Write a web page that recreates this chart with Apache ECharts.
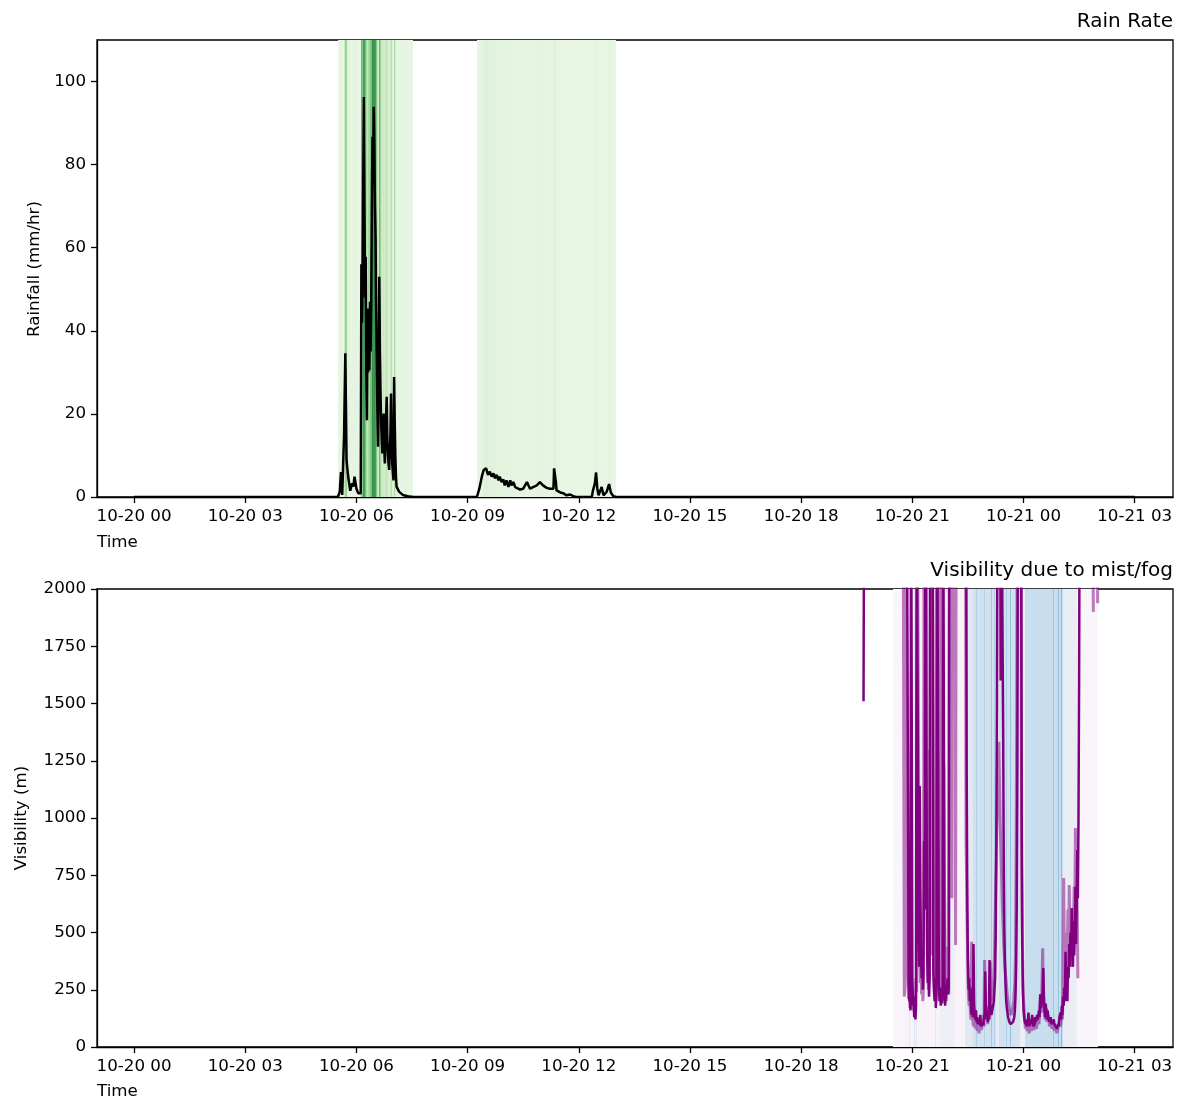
<!DOCTYPE html>
<html><head><meta charset="utf-8">
<script src="https://cdn.jsdelivr.net/npm/echarts@6/dist/echarts.min.js"></script>
<style>html,body{margin:0;padding:0;background:#fff}#chart{width:1181px;height:1099px}</style>
</head><body><div id="chart"></div>
<script>
// ---- DATA (time = minutes after 10-20 00:00) ----
const tickMinutes = [0,180,360,540,720,900,1080,1260,1440,1620];
const tickLabels = ['10-20 00','10-20 03','10-20 06','10-20 09','10-20 12','10-20 15','10-20 18','10-20 21','10-21 00','10-21 03'];
const rainTicks = [0,20,40,60,80,100];
const visTicks = [0,250,500,750,1000,1250,1500,1750,2000];

// rain rate (mm/hr)
const rain = [[0,0],[330,0],[333,1.3],[335,6],[337,0.5],[340,15],[342,34.6],[344,9],[345,7.3],[347,4.5],[350,1.5],[353,3.3],[355,2.5],[357,4.9],[360,2],[363,0.9],[367,0.9],
[368,56],[369,42],[370,53],[371,75],[372,96.3],[373,70],[374,48],[375,57.8],[376,30],[377,18.5],[378,45.4],[379,30],[380,42],[381,30.5],[382,47],[383,35],[384,48],[385,70],[386,86.7],[387,75],[388,93.9],[389,85],[390,70],[391,62.6],[392,45],[393,32.2],[394,20],[395,12.1],[396,30],[397,53],[398,35],[399,25],[400,17.7],[401,14],[402,10.5],[403,16],[404,20.1],[405,12],[406,8.1],[407,15],[408,19],[409,24.1],[410,14],[411,10],[412,8],[413,6.5],[414,11],[415,15],[416,24.9],[417,14],[418,8],[419,6],[420,4],[421,28.9],[422,18],[423,10],[424,5],[425,2.5],[429,1.3],[435,0.5],[443,0.2],[452,0],
[555,0],[559,2],[563,4.9],[566,6.5],[570,6.9],[573,5.3],[576,6.1],[579,4.9],[582,5.7],[584,4.5],[587,5.3],[590,4.0],[592,4.9],[595,3.6],[598,4.2],[600,2.8],[603,4.0],[606,2.4],[609,4.0],[611,2.8],[614,3.6],[617,2.4],[619,2.0],[625,1.8],[630,2.0],[636,3.6],[641,2.0],[646,2.4],[652,2.8],[657,3.6],[662,2.8],[668,2.2],[673,2.0],[679,2.0],[680,6.9],[683,3.6],[684,1.6],[690,1.1],[695,0.9],[700,0.4],[706,0.6],[711,0.2],[716,0],[741,0],[743,1.6],[746,3.2],[748,5.9],[750,2.0],[752,0.4],[754,1.2],[757,2.4],[760,0.4],[762,0.8],[765,1.2],[769,3.1],[772,1.0],[776,0.2],[781,0],[1620,0]];
const rainEventWindows = [[330,452],[555,782]];

// visibility (m); values above 2000 are off the top of the axis, null = no data
const visDark = [[1181,1510],[1182,2600],[1183,null],
[1251,2600],[1253,2600],[1254,280],[1255,200],[1256,240],[1257,160],[1258,2600],[1259,2600],[1260,300],[1261,180],[1262,220],[1263,130],[1264,170],[1265,120],[1266,180],[1267,2600],[1269,2600],[1270,500],[1271,350],[1272,1140],[1273,700],[1274,420],[1275,300],[1276,380],[1277,250],[1278,330],[1279,900],[1280,600],[1281,2600],[1283,2600],[1284,400],[1285,280],[1286,350],[1287,220],[1288,300],[1289,2600],[1293,2600],[1294,330],[1295,260],[1296,200],[1297,300],[1298,170],[1299,230],[1300,2600],[1302,2600],[1303,280],[1304,200],[1305,240],[1306,180],[1307,260],[1308,190],[1309,240],[1310,2600],[1311,2600],[1312,250],[1313,180],[1314,220],[1316,260],[1317,300],[1318,230],[1319,260],[1320,2600],
[1347,2600],[1348,1200],[1349,600],[1350,380],[1351,250],[1352,300],[1353,200],[1354,260],[1355,170],[1356,140],[1357,190],[1358,130],[1359,450],[1360,200],[1361,140],[1362,120],[1363,160],[1364,110],[1365,130],[1366,100],[1368,120],[1369,95],[1370,140],[1371,100],[1372,90],[1373,110],[1375,95],[1376,140],[1377,120],[1378,330],[1379,180],[1380,130],[1381,160],[1382,110],[1384,130],[1385,380],[1386,200],[1387,150],[1388,140],[1390,170],[1392,200],[1394,300],[1395,500],[1396,900],[1397,1500],[1398,2600],[1402,2600],[1403,1600],[1404,2600],[1406,2600],[1407,1400],[1408,800],[1409,500],[1410,350],[1411,260],[1412,200],[1413,170],[1414,150],[1415,130],[1416,120],[1417,110],[1419,100],[1421,100],[1423,110],[1425,130],[1426,160],[1427,220],[1428,350],[1429,600],[1430,1200],[1431,2600],[1436,2600],[1437,1000],[1438,450],[1439,250],[1440,170],[1441,130],[1442,110],[1443,100],[1444,120],[1445,90],[1447,110],[1448,150],[1449,100],[1450,90],[1452,120],[1453,100],[1454,140],[1455,110],[1456,90],[1458,100],[1459,130],[1460,110],[1462,140],[1463,120],[1465,160],[1466,130],[1467,230],[1468,170],[1469,180],[1471,240],[1472,345],[1473,220],[1474,160],[1475,130],[1476,190],[1477,140],[1478,120],[1479,160],[1480,130],[1482,110],[1484,130],[1485,100],[1487,95],[1489,120],[1490,100],[1492,90],[1494,80],[1496,100],[1497,90],[1498,130],[1500,150],[1501,120],[1502,180],[1503,140],[1504,220],[1505,180],[1506,260],[1507,200],[1508,416],[1509,250],[1510,300],[1511,200],[1512,350],[1513,300],[1514,450],[1515,350],[1516,500],[1517,400],[1518,607],[1519,450],[1520,350],[1521,550],[1522,400],[1523,500],[1524,700],[1525,450],[1526,600],[1527,860],[1528,650],[1529,1000],[1530,1600],[1531,2600]];

const visLight = [[1245,2600],[1246,2600],[1247,220],[1248,260],[1249,2600],[1250,2600],[1251,760],[1252,400],[1253,300],[1254,210],[1255,260],[1256,170],[1257,240],[1258,525],[1259,300],[1260,230],[1261,160],[1262,200],[1263,250],[1264,180],[1265,220],[1266,300],[1267,240],[1268,2600],[1270,2600],[1271,655],[1272,400],[1273,280],[1274,350],[1275,230],[1276,300],[1277,200],[1278,260],[1279,2600],[1283,2600],[1284,500],[1285,350],[1286,250],[1287,300],[1288,1297],[1289,900],[1290,600],[1291,400],[1292,2600],[1294,2600],[1295,280],[1296,220],[1297,260],[1298,200],[1299,290],[1300,2600],[1303,2600],[1304,300],[1305,250],[1306,2600],[1308,2600],[1309,230],[1310,300],[1311,1240],[1312,700],[1313,400],[1314,250],[1315,200],[1316,280],[1317,437],[1318,300],[1319,230],[1320,2600],[1323,2600],[1324,650],[1325,2600],[1329,2600],[1330,445],[1331,2600],
[1346,2600],[1347,900],[1348,700],[1349,500],[1350,300],[1351,220],[1352,180],[1353,250],[1354,150],[1355,120],[1356,460],[1357,200],[1358,110],[1359,90],[1360,130],[1362,80],[1364,110],[1365,70],[1367,90],[1368,60],[1370,100],[1372,75],[1374,120],[1376,90],[1377,380],[1378,250],[1379,120],[1381,180],[1382,100],[1384,150],[1385,120],[1386,372],[1387,250],[1389,200],[1391,250],[1393,400],[1395,700],[1397,1000],[1398,1300],[1399,1100],[1400,1333],[1402,1000],[1404,800],[1406,600],[1408,450],[1410,350],[1412,280],[1414,220],[1416,180],[1418,150],[1420,140],[1422,160],[1424,200],[1426,280],[1427,400],[1428,800],[1429,1500],[1430,2600],[1436,2600],[1437,800],[1438,500],[1439,300],[1440,200],[1441,150],[1442,120],[1443,80],[1444,100],[1446,70],[1448,90],[1449,60],[1451,85],[1453,70],[1454,130],[1455,95],[1457,75],[1459,100],[1461,80],[1463,120],[1465,100],[1467,200],[1469,150],[1471,431],[1472,250],[1473,180],[1475,120],[1477,170],[1478,110],[1480,140],[1482,90],[1484,110],[1486,80],[1488,100],[1490,70],[1492,95],[1494,60],[1496,85],[1498,110],[1500,90],[1502,150],[1503,120],[1504,250],[1505,738],[1506,400],[1507,300],[1508,500],[1509,350],[1510,300],[1512,600],[1513,400],[1514,707],[1515,500],[1517,350],[1518,600],[1519,450],[1520,400],[1522,700],[1523,550],[1524,956],[1525,700],[1526,900],[1527,600],[1528,300],[1529,null],
[1552,2600],[1553,1900],[1554,null],[1559,2600],[1560,1938]];

// fog intensity bands [start, end, level 0..1]
const fogBands = [[1228,1245,0.05],[1245,1254,0.1],[1254,1256,0.3],[1256,1262,0.12],[1262,1264,0.35],[1264,1266,0.15],[1266,1267,0.3],[1267,1283,0.1],[1283,1284,0.3],[1284,1297,0.1],[1297,1298,0.3],[1298,1305,0.12],[1305,1314,0.2],[1314,1315,0.35],[1315,1328,0.2],[1328,1345,0.1],[1345,1358,0.3],[1358,1363,0.5],[1363,1364,0.7],[1364,1366,0.5],[1366,1367,0.8],[1367,1369,0.5],[1369,1370,0.65],[1370,1372,0.5],[1372,1373,0.75],[1373,1376,0.5],[1376,1377,0.65],[1377,1382,0.5],[1382,1383,0.7],[1383,1388,0.5],[1388,1389,0.8],[1389,1393,0.5],[1393,1394,0.7],[1394,1395,0.45],[1395,1401,0.25],[1401,1406,0.5],[1406,1407,0.65],[1407,1412,0.5],[1412,1413,0.7],[1413,1418,0.5],[1418,1419,0.85],[1419,1426,0.5],[1426,1427,0.75],[1427,1434,0.45],[1434,1442,0.2],[1442,1445,0.55],[1445,1446,0.8],[1446,1450,0.55],[1450,1451,0.75],[1451,1455,0.55],[1455,1456,0.7],[1456,1460,0.55],[1460,1461,0.85],[1461,1466,0.55],[1466,1467,0.7],[1467,1471,0.55],[1471,1472,0.75],[1472,1479,0.55],[1479,1480,0.85],[1480,1484,0.55],[1484,1485,0.7],[1485,1488,0.55],[1488,1489,0.8],[1489,1492,0.55],[1492,1493,0.7],[1493,1496,0.55],[1496,1497,0.85],[1497,1501,0.55],[1501,1503,0.9],[1503,1504,0.55],[1504,1527,0.22],[1527,1561,0.06]];

// ---- helpers ----
const greenStops = [[0,[232,246,228]],[0.05,[226,243,221]],[0.2,[192,229,184]],[0.45,[130,200,130]],[0.7,[70,160,90]],[1,[35,130,60]]];
const blueStops = [[0,[251,247,251]],[0.1,[247,243,249]],[0.25,[232,235,244]],[0.5,[208,225,239]],[0.8,[158,200,225]],[1,[125,180,213]]];
function lerpStops(stops, t) {
  t = Math.max(0, Math.min(1, t));
  for (let i = 1; i < stops.length; i++) {
    if (t <= stops[i][0]) {
      const a = stops[i-1], b = stops[i];
      const f = (t - a[0]) / (b[0] - a[0]);
      return 'rgb(' + [0,1,2].map(k => Math.round(a[1][k] + (b[1][k]-a[1][k]) * f)).join(',') + ')';
    }
  }
  const l = stops[stops.length-1][1];
  return 'rgb(' + l.join(',') + ')';
}
const rainBands = [];
for (let i = 0; i < rain.length - 1; i++) {
  const a = rain[i][0], b = rain[i+1][0];
  if (rainEventWindows.some(w => a >= w[0] && b <= w[1])) rainBands.push([a, b, rain[i][1]]);
}
function bandRenderer(colorFn) {
  return function (params, api) {
    const cs = params.coordSys;
    const xa = Math.round(api.coord([api.value(0), 0])[0]);
    let xb = Math.round(api.coord([api.value(1), 0])[0]);
    if (xb <= xa) xb = xa + 1;
    return { type: 'rect', shape: { x: xa, y: cs.y, width: xb - xa, height: cs.height },
             style: { fill: colorFn(api.value(2)) }, silent: true };
  };
}
const FONT = 'DejaVu Sans';
function xAxisCfg(gi) {
  return { type: 'value', gridIndex: gi, min: -60, max: 1682,
    axisLine: { show: true, onZero: false, lineStyle: { color: '#000', width: 1.3 } },
    axisTick: { show: true, customValues: tickMinutes, length: 6, lineStyle: { color: '#000', width: 1.3 } },
    axisLabel: { customValues: tickMinutes, formatter: v => tickLabels[tickMinutes.indexOf(v)] || '',
      fontFamily: FONT, fontSize: 16.7, color: '#000', margin: 11 },
    splitLine: { show: false } };
}
function yAxisCfg(gi, max, ticks) {
  return { type: 'value', gridIndex: gi, min: 0, max: max,
    axisLine: { show: true, onZero: false, lineStyle: { color: '#000', width: 1.3 } },
    axisTick: { show: true, customValues: ticks, length: 6, lineStyle: { color: '#000', width: 1.3 } },
    axisLabel: { customValues: ticks, formatter: v => String(v), fontFamily: FONT, fontSize: 16.7, color: '#000', margin: 11 },
    splitLine: { show: false } };
}
const txt = (text, x, y, size, align, rot) => ({ type: 'text', x: x, y: y, rotation: rot || 0, z: 100,
  style: { text: text, fontFamily: FONT, fontSize: size, fill: '#000', align: align, verticalAlign: 'middle' } });

const chart = echarts.init(document.getElementById('chart'), null, { renderer: 'canvas' });
chart.setOption({
  animation: false,
  backgroundColor: '#fff',
  grid: [
    { left: 97, top: 40, width: 1076, height: 457, show: true, borderColor: '#000', borderWidth: 1.3, containLabel: false },
    { left: 97, top: 589, width: 1076, height: 458, show: true, borderColor: '#000', borderWidth: 1.3, containLabel: false }
  ],
  xAxis: [xAxisCfg(0), xAxisCfg(1)],
  yAxis: [yAxisCfg(0, 110, rainTicks), yAxisCfg(1, 2000, visTicks)],
  graphic: [
    txt('Rain Rate', 1173, 22, 20, 'right'),
    txt('Visibility due to mist/fog', 1173, 571, 20, 'right'),
    txt('Time', 97, 543, 16.7, 'left'),
    txt('Time', 97, 1092, 16.7, 'left'),
    txt('Rainfall (mm/hr)', 35, 269, 16.7, 'center', Math.PI / 2),
    txt('Visibility (m)', 22, 818, 16.7, 'center', Math.PI / 2)
  ],
  series: [
    { type: 'custom', xAxisIndex: 0, yAxisIndex: 0, data: rainBands, encode: { x: [0, 1], y: 2 }, z: 1,
      renderItem: bandRenderer(v => lerpStops(greenStops, v / 100)) },
    { type: 'line', xAxisIndex: 0, yAxisIndex: 0, data: rain, showSymbol: false, symbol: 'none', z: 5,
      lineStyle: { color: '#000', width: 2.5 } },
    { type: 'custom', xAxisIndex: 1, yAxisIndex: 1, data: fogBands, encode: { x: [0, 1], y: 2 }, z: 1,
      renderItem: bandRenderer(v => lerpStops(blueStops, v)) },
    { type: 'line', xAxisIndex: 1, yAxisIndex: 1, data: visLight, showSymbol: false, symbol: 'none', z: 4, clip: true,
      connectNulls: false, lineStyle: { color: '#800080', width: 3, opacity: 0.5 } },
    { type: 'line', xAxisIndex: 1, yAxisIndex: 1, data: visDark, showSymbol: false, symbol: 'none', z: 5, clip: true,
      connectNulls: false, lineStyle: { color: '#800080', width: 2.5 } }
  ]
});
</script></body></html>
